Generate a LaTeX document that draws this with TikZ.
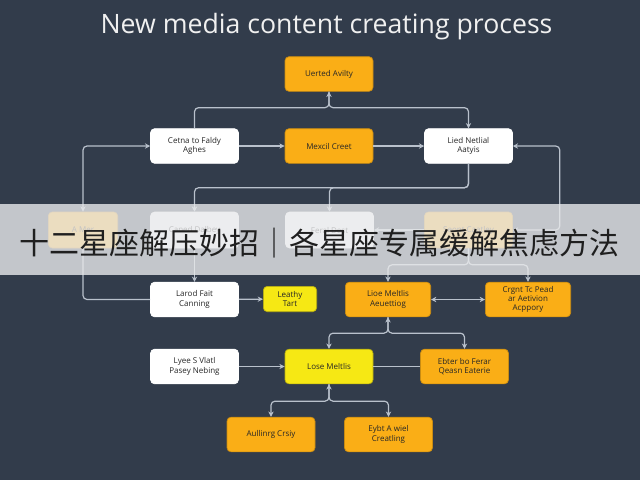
\documentclass[tikz,border=0pt]{standalone}
\usepackage{fontspec}
\setmainfont{Open Sans}
\newfontfamily\cjkfont{Noto Sans CJK SC}
\usetikzlibrary{arrows.meta,calc}

\definecolor{bgslate}{RGB}{50,60,75}
\definecolor{boxorange}{RGB}{250,174,22}
\definecolor{boxyellow}{RGB}{246,232,20}
\definecolor{linegray}{RGB}{185,193,204}
\definecolor{bannergray}{RGB}{232,233,235}

\tikzset{
  box/.style={rectangle, rounded corners=3pt, minimum width=66pt, minimum height=26pt,
    align=center, inner sep=1pt, text=black!85, font=\fontsize{6}{7}\selectfont},
  orangebox/.style={box, fill=boxorange, draw=boxorange!80!black, line width=0.5pt},
  whitebox/.style={box, fill=white, draw=white},
  yellowbox/.style={box, fill=boxyellow, draw=boxyellow!75!black, line width=0.5pt},
  conn/.style={draw=linegray, line width=0.9pt, rounded corners=3pt},
  arr/.style={conn, -{Stealth[length=4pt,width=4pt]}},
  darr/.style={conn, {Stealth[length=4pt,width=4pt]}-{Stealth[length=4pt,width=4pt]}}
}

\begin{document}
\begin{tikzpicture}[x=0.75pt, y=-0.75pt]
  \fill[bgslate] (0,0) rectangle (640,480);
  \useasboundingbox (0,0) rectangle (640,480);

  \node[text=white!94!black, font=\fontsize{20}{24}\selectfont] (title) at (326.5,27) {New media content creating process};

  % top rows
  \node[orangebox] (A) at (329,74) {Uerted Avilty};
  \node[whitebox] (B) at (194.5,146) {Cetna to Faldy\\Aghes};
  \node[orangebox] (C) at (329,146) {Mexcil Creet};
  \node[whitebox] (D) at (468.5,146) {Lied Netlial\\Aatyis};

  % row under the banner
  \node[orangebox, minimum width=52pt, minimum height=27pt] (E) at (83,230) {A Mer};
  \node[whitebox, minimum height=27pt] (F) at (194.5,230) {Caned Dalbey};
  \node[whitebox, minimum height=27pt] (G) at (329.5,230) {Feral Dest};
  \node[orangebox, minimum height=27pt] (H) at (468.5,230) {Seont Caatley};

  % lower rows
  \node[whitebox] (I) at (194.5,299.5) {Larod Fait\\Canning};
  \node[yellowbox, minimum width=40pt, minimum height=19pt] (J) at (290,299) {Leathy\\Tart};
  \node[orangebox, minimum width=64pt] (K) at (388,299.5) {Lioe Meltlis\\Aeuettiog};
  \node[orangebox, minimum width=64pt] (L) at (528,299.5) {Crgnt Tc Pead\\ar Aetivion\\Acppory};
  \node[whitebox] (M) at (194.5,366.5) {Lyee S Vlatl\\Pasey Nebing};
  \node[yellowbox] (N) at (329,366.5) {Lose Meltlis};
  \node[orangebox] (O) at (464.5,366.5) {Ebter bo Ferar\\Qeasn Eaterie};
  \node[orangebox] (P) at (271,434.5) {Aullinrg Crsiy};
  \node[orangebox] (Q) at (388.5,434.5) {Eybt A wiel\\Creatling};

  % connectors
  \draw[conn] (B.north) |- ($(A.south)+(0,16)$) -- (A.south);
  \draw[darr] (A.south) -- ($(A.south)+(0,16)$) -| (D.north);
  \draw[darr] (E.north) |- (B.west);
  \draw[conn] (E.south) |- (I.west);
  \draw[arr] (B) -- (C);
  \draw[arr] (C) -- (D);
  \draw[darr] (D.east) -- ++(47,0) |- (H.east);
  \draw[arr] (D.south) |- ($(F.north)+(0,-24)$) -- (F.north);
  \draw[arr] (D.south) |- ($(G.north)+(0,-24)$) -- (G.north);
  \draw[arr] (H) -- (G);
  \draw[arr] (F) -- (I);
  \draw[arr] (H.south) |- ($(K.north)+(0,-17)$) -- (K.north);
  \draw[arr] (H.south) |- ($(L.north)+(0,-17)$) -- (L.north);
  \draw[arr] (I) -- (J);
  \draw[darr] (K) -- (L);
  \draw[darr] (K.south) -- ($(K.south)+(0,16)$) -| (N.north);
  \draw[arr] (K.south) -- ($(K.south)+(0,16)$) -| (O.north);
  \draw[arr] (M) -- (N);
  \draw[conn] (N) -- (O);
  \draw[darr] (N.south) -- ++(0,17) -| (P.north);
  \draw[arr] (N.south) -- ++(0,17) -| (Q.north);

  % banner
  \fill[bannergray, fill opacity=0.8] (0,204) rectangle (640,275);
  \node[text=black!88, font=\cjkfont\fontsize{22.5}{24}\selectfont, inner sep=0pt] (banner) at (320,243) {十二星座解压妙招｜各星座专属缓解焦虑方法};
\end{tikzpicture}
\end{document}
